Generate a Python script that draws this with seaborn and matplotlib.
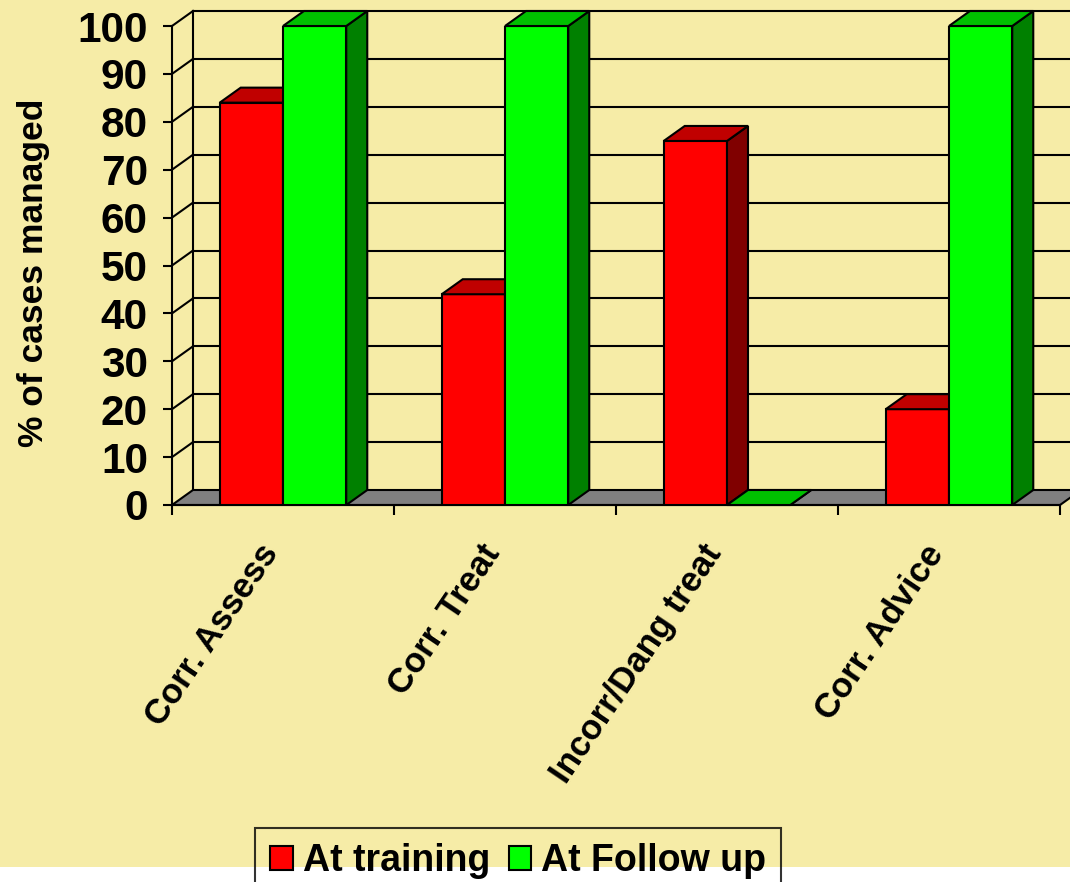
import numpy as np
import pandas as pd
import seaborn as sns
import matplotlib.pyplot as plt
from matplotlib.patches import Polygon, Patch, Rectangle
from matplotlib.transforms import ScaledTranslation


categories = ["Corr. Assess", "Corr. Treat", "Incorr/Dang treat", "Corr. Advice"]
series = ["At training", "At Follow up"]
at_training = [84, 44, 76, 20]
at_follow_up = [100, 100, 0, 100]
y_ticks = list(range(0, 101, 10))

front_colors = ["#FF0000", "#00FF00"]
top_colors = ["#C00000", "#00C000"]
side_colors = ["#800000", "#008000"]
bg = "#F6ECA7"

df = pd.DataFrame({"category": categories,
                   series[0]: at_training,
                   series[1]: at_follow_up})
df = df.melt(id_vars="category", var_name="series", value_name="pct")

plt.rcParams["font.family"] = "Liberation Sans"
plt.rcParams["font.weight"] = "bold"

W, H = 1070, 882
fig = plt.figure(figsize=(W / 100, H / 100), dpi=100, facecolor=bg)
# white strip at the very bottom of the slide
fig.patches.append(Rectangle((0, 0), 1, 15 / H, transform=fig.transFigure,
                             facecolor="white", edgecolor="none", zorder=0))

ax = fig.add_axes([172 / W, 1 - 505 / H, 888 / W, 479 / H])
ax.set_facecolor("none")

sns.barplot(data=df, x="category", y="pct", hue="series", hue_order=series,
            palette=front_colors, width=0.57, gap=0, saturation=1,
            edgecolor="black", linewidth=1.5, errorbar=None, legend=False, ax=ax)

ax.set_xlim(-0.5, 3.5)
ax.set_ylim(0, 100)

# depth of the fake 3d, 21 px right and 15 px up
dx = 21 / 888 * 4
dy = 15 / 479 * 100
x0, x1 = -0.5, 3.5

# back wall + left wall gridlines
for v in y_ticks[1:]:
    ax.plot([x0 + dx, x1 + dx], [v + dy, v + dy], color="black", lw=1.5,
            zorder=1, clip_on=False)
    ax.plot([x0, x0 + dx], [v, v + dy], color="black", lw=1.5, zorder=1,
            clip_on=False)
ax.plot([x0 + dx, x0 + dx], [dy, 100 + dy], color="black", lw=1.5, zorder=1,
        clip_on=False)

# grey floor
ax.add_patch(Polygon([(x0, 0), (x1, 0), (x1 + dx, dy), (x0 + dx, dy)],
                     facecolor="#808080", edgecolor="black", lw=1.5,
                     zorder=1.5, clip_on=False))

# top and side faces of each bar
for i, cont in enumerate(ax.containers):
    for bar in cont:
        bx, bw, bh = bar.get_x(), bar.get_width(), bar.get_height()
        bar.set_zorder(3 + i)
        ax.add_patch(Polygon([(bx + bw, 0), (bx + bw + dx, dy),
                              (bx + bw + dx, bh + dy), (bx + bw, bh)],
                             facecolor=side_colors[i], edgecolor="black",
                             lw=1.5, zorder=3 + i, clip_on=False))
        ax.add_patch(Polygon([(bx, bh), (bx + bw, bh), (bx + bw + dx, bh + dy),
                              (bx + dx, bh + dy)],
                             facecolor=top_colors[i], edgecolor="black",
                             lw=1.5, zorder=3 + i, clip_on=False))

# axes and ticks
for s in ["top", "right"]:
    ax.spines[s].set_visible(False)
for s in ["left", "bottom"]:
    ax.spines[s].set_linewidth(1.5)
    ax.spines[s].set_color("black")

ax.set_yticks(y_ticks)
ax.tick_params(axis="y", length=6.5, width=1.5, pad=10.8, labelsize=30.5,
               direction="out")
ax.set_xticks(range(len(categories)))
ax.set_xticklabels(categories, rotation=56, ha="right", va="baseline",
                   rotation_mode="anchor", fontsize=25, fontweight="bold")
ax.tick_params(axis="x", which="major", length=0, pad=34.5)
for lbl in ax.get_xticklabels():
    lbl.set_transform(lbl.get_transform()
                      + ScaledTranslation(-4 / 100, 0, fig.dpi_scale_trans))
ax.set_xticks(np.arange(-0.5, len(categories), 1), minor=True)
ax.tick_params(axis="x", which="minor", length=7.2, width=1.5, direction="out")

ax.set_xlabel("")
ax.set_ylabel("% of cases managed", fontsize=25.5, fontweight="bold")
ax.yaxis.set_label_coords(-0.137, 0.485)

handles = [Patch(facecolor=c, edgecolor="black", lw=1.5) for c in front_colors]
leg = fig.legend(handles, series, loc="upper left",
                 bbox_to_anchor=(255 / W, 1 - 828 / H), ncol=2,
                 prop={"size": 27, "weight": "bold"}, frameon=True,
                 fancybox=False, edgecolor="black", facecolor="none",
                 handlelength=0.6, handleheight=0.6, handletextpad=0.27,
                 columnspacing=0.5, borderpad=0.4, borderaxespad=0)
leg.get_frame().set_linewidth(1.5)

fig.savefig("out.png", dpi=100, facecolor=bg)
